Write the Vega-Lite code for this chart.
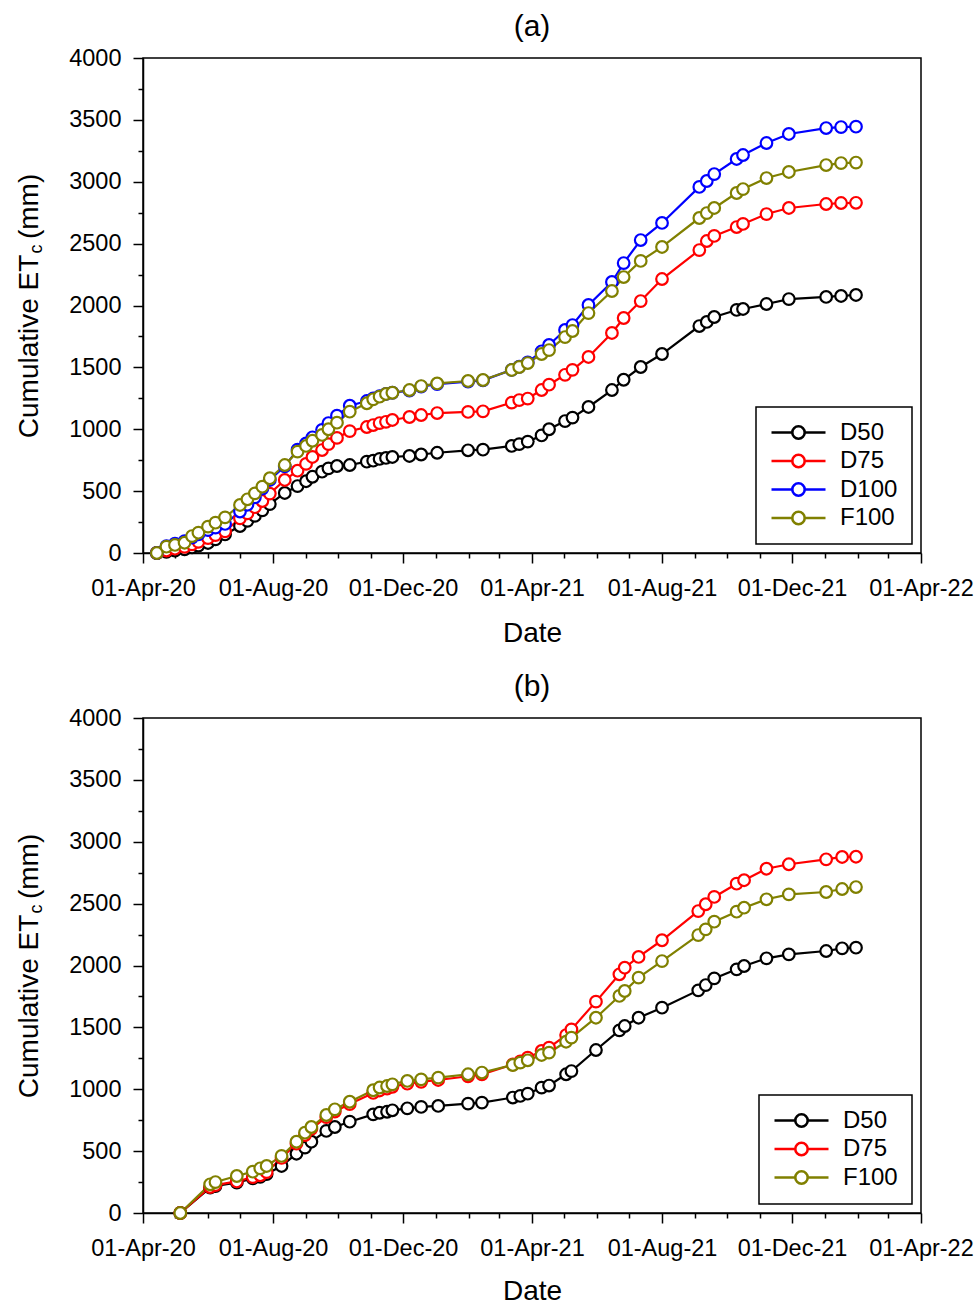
{
  "$schema": "https://vega.github.io/schema/vega-lite/v6.json",
  "background": "white",
  "padding": {"left": 14, "top": 11, "right": 0, "bottom": 0},
  "spacing": 22,
  "config": {
    "font": "Liberation Sans",
    "view": {"stroke": "black", "strokeWidth": 1.5},
    "axis": {"domainColor": "black", "domainWidth": 1.5, "tickColor": "black", "tickWidth": 1.5, "labelColor": "black", "labelFont": "Liberation Sans", "labelFontSize": 23, "titleFont": "Liberation Sans", "titleFontSize": 28, "titleFontWeight": "normal", "titleColor": "black", "grid": false},
    "title": {"font": "Liberation Sans", "fontSize": 30, "fontWeight": "normal", "color": "black", "anchor": "middle", "frame": "group", "offset": 0},
    "legend": {"orient": "bottom-right", "offset": 9, "strokeColor": "black", "strokeWidth": 1.5, "fillColor": "white", "padding": 14, "cornerRadius": 0, "labelFont": "Liberation Sans", "labelFontSize": 24, "labelColor": "black", "clipHeight": 23, "rowPadding": 3.5, "labelOffset": 13, "symbolOffset": 0}
  },
  "datasets": {
    "a": [
      {"d":"2020-04-14","s":"D50","v":0},{"d":"2020-04-23","s":"D50","v":10},{"d":"2020-05-01","s":"D50","v":20},{"d":"2020-05-10","s":"D50","v":30},{"d":"2020-05-17","s":"D50","v":45},{"d":"2020-05-23","s":"D50","v":60},{"d":"2020-06-01","s":"D50","v":81},{"d":"2020-06-08","s":"D50","v":110},{"d":"2020-06-17","s":"D50","v":150},{"d":"2020-07-01","s":"D50","v":218},{"d":"2020-07-08","s":"D50","v":260},{"d":"2020-07-15","s":"D50","v":300},{"d":"2020-07-22","s":"D50","v":345},{"d":"2020-07-29","s":"D50","v":395},{"d":"2020-08-12","s":"D50","v":485},{"d":"2020-08-24","s":"D50","v":541},{"d":"2020-09-01","s":"D50","v":580},{"d":"2020-09-07","s":"D50","v":616},{"d":"2020-09-16","s":"D50","v":657},{"d":"2020-09-22","s":"D50","v":684},{"d":"2020-09-30","s":"D50","v":703},{"d":"2020-10-12","s":"D50","v":711},{"d":"2020-10-28","s":"D50","v":738},{"d":"2020-11-03","s":"D50","v":746},{"d":"2020-11-09","s":"D50","v":760},{"d":"2020-11-15","s":"D50","v":768},{"d":"2020-11-21","s":"D50","v":776},{"d":"2020-12-07","s":"D50","v":784},{"d":"2020-12-18","s":"D50","v":796},{"d":"2021-01-02","s":"D50","v":810},{"d":"2021-01-31","s":"D50","v":830},{"d":"2021-02-14","s":"D50","v":835},{"d":"2021-03-13","s":"D50","v":865},{"d":"2021-03-20","s":"D50","v":880},{"d":"2021-03-28","s":"D50","v":900},{"d":"2021-04-10","s":"D50","v":950},{"d":"2021-04-17","s":"D50","v":1000},{"d":"2021-05-02","s":"D50","v":1066},{"d":"2021-05-09","s":"D50","v":1094},{"d":"2021-05-24","s":"D50","v":1180},{"d":"2021-06-15","s":"D50","v":1317},{"d":"2021-06-26","s":"D50","v":1400},{"d":"2021-07-12","s":"D50","v":1503},{"d":"2021-08-01","s":"D50","v":1608},{"d":"2021-09-05","s":"D50","v":1834},{"d":"2021-09-12","s":"D50","v":1867},{"d":"2021-09-19","s":"D50","v":1907},{"d":"2021-10-10","s":"D50","v":1964},{"d":"2021-10-16","s":"D50","v":1972},{"d":"2021-11-07","s":"D50","v":2012},{"d":"2021-11-28","s":"D50","v":2052},{"d":"2022-01-02","s":"D50","v":2069},{"d":"2022-01-16","s":"D50","v":2077},{"d":"2022-01-30","s":"D50","v":2085},
      {"d":"2020-04-14","s":"D75","v":0},{"d":"2020-04-23","s":"D75","v":20},{"d":"2020-05-01","s":"D75","v":35},{"d":"2020-05-10","s":"D75","v":50},{"d":"2020-05-17","s":"D75","v":70},{"d":"2020-05-23","s":"D75","v":90},{"d":"2020-06-01","s":"D75","v":120},{"d":"2020-06-08","s":"D75","v":145},{"d":"2020-06-17","s":"D75","v":175},{"d":"2020-07-01","s":"D75","v":280},{"d":"2020-07-08","s":"D75","v":320},{"d":"2020-07-15","s":"D75","v":370},{"d":"2020-07-22","s":"D75","v":420},{"d":"2020-07-29","s":"D75","v":480},{"d":"2020-08-12","s":"D75","v":590},{"d":"2020-08-24","s":"D75","v":665},{"d":"2020-09-01","s":"D75","v":720},{"d":"2020-09-07","s":"D75","v":776},{"d":"2020-09-16","s":"D75","v":832},{"d":"2020-09-22","s":"D75","v":880},{"d":"2020-09-30","s":"D75","v":930},{"d":"2020-10-12","s":"D75","v":985},{"d":"2020-10-28","s":"D75","v":1018},{"d":"2020-11-03","s":"D75","v":1034},{"d":"2020-11-09","s":"D75","v":1050},{"d":"2020-11-15","s":"D75","v":1060},{"d":"2020-11-21","s":"D75","v":1075},{"d":"2020-12-07","s":"D75","v":1099},{"d":"2020-12-18","s":"D75","v":1115},{"d":"2021-01-02","s":"D75","v":1131},{"d":"2021-01-31","s":"D75","v":1140},{"d":"2021-02-14","s":"D75","v":1145},{"d":"2021-03-13","s":"D75","v":1215},{"d":"2021-03-20","s":"D75","v":1236},{"d":"2021-03-28","s":"D75","v":1248},{"d":"2021-04-10","s":"D75","v":1317},{"d":"2021-04-17","s":"D75","v":1360},{"d":"2021-05-02","s":"D75","v":1440},{"d":"2021-05-09","s":"D75","v":1480},{"d":"2021-05-24","s":"D75","v":1584},{"d":"2021-06-15","s":"D75","v":1778},{"d":"2021-06-26","s":"D75","v":1899},{"d":"2021-07-12","s":"D75","v":2036},{"d":"2021-08-01","s":"D75","v":2214},{"d":"2021-09-05","s":"D75","v":2448},{"d":"2021-09-12","s":"D75","v":2521},{"d":"2021-09-19","s":"D75","v":2562},{"d":"2021-10-10","s":"D75","v":2634},{"d":"2021-10-16","s":"D75","v":2659},{"d":"2021-11-07","s":"D75","v":2739},{"d":"2021-11-28","s":"D75","v":2788},{"d":"2022-01-02","s":"D75","v":2820},{"d":"2022-01-16","s":"D75","v":2828},{"d":"2022-01-30","s":"D75","v":2830},
      {"d":"2020-04-14","s":"D100","v":0},{"d":"2020-04-23","s":"D100","v":55},{"d":"2020-05-01","s":"D100","v":75},{"d":"2020-05-10","s":"D100","v":95},{"d":"2020-05-17","s":"D100","v":125},{"d":"2020-05-23","s":"D100","v":150},{"d":"2020-06-01","s":"D100","v":185},{"d":"2020-06-08","s":"D100","v":205},{"d":"2020-06-17","s":"D100","v":235},{"d":"2020-07-01","s":"D100","v":335},{"d":"2020-07-08","s":"D100","v":390},{"d":"2020-07-15","s":"D100","v":450},{"d":"2020-07-22","s":"D100","v":520},{"d":"2020-07-29","s":"D100","v":590},{"d":"2020-08-12","s":"D100","v":700},{"d":"2020-08-24","s":"D100","v":835},{"d":"2020-09-01","s":"D100","v":885},{"d":"2020-09-07","s":"D100","v":935},{"d":"2020-09-16","s":"D100","v":995},{"d":"2020-09-22","s":"D100","v":1050},{"d":"2020-09-30","s":"D100","v":1110},{"d":"2020-10-12","s":"D100","v":1190},{"d":"2020-10-28","s":"D100","v":1228},{"d":"2020-11-03","s":"D100","v":1250},{"d":"2020-11-09","s":"D100","v":1268},{"d":"2020-11-15","s":"D100","v":1285},{"d":"2020-11-21","s":"D100","v":1295},{"d":"2020-12-07","s":"D100","v":1312},{"d":"2020-12-18","s":"D100","v":1345},{"d":"2021-01-02","s":"D100","v":1365},{"d":"2021-01-31","s":"D100","v":1385},{"d":"2021-02-14","s":"D100","v":1395},{"d":"2021-03-13","s":"D100","v":1480},{"d":"2021-03-20","s":"D100","v":1505},{"d":"2021-03-28","s":"D100","v":1540},{"d":"2021-04-10","s":"D100","v":1630},{"d":"2021-04-17","s":"D100","v":1681},{"d":"2021-05-02","s":"D100","v":1802},{"d":"2021-05-09","s":"D100","v":1842},{"d":"2021-05-24","s":"D100","v":2004},{"d":"2021-06-15","s":"D100","v":2190},{"d":"2021-06-26","s":"D100","v":2343},{"d":"2021-07-12","s":"D100","v":2529},{"d":"2021-08-01","s":"D100","v":2667},{"d":"2021-09-05","s":"D100","v":2958},{"d":"2021-09-12","s":"D100","v":3006},{"d":"2021-09-19","s":"D100","v":3062},{"d":"2021-10-10","s":"D100","v":3184},{"d":"2021-10-16","s":"D100","v":3216},{"d":"2021-11-07","s":"D100","v":3313},{"d":"2021-11-28","s":"D100","v":3386},{"d":"2022-01-02","s":"D100","v":3434},{"d":"2022-01-16","s":"D100","v":3442},{"d":"2022-01-30","s":"D100","v":3445},
      {"d":"2020-04-14","s":"F100","v":0},{"d":"2020-04-23","s":"F100","v":51},{"d":"2020-05-01","s":"F100","v":65},{"d":"2020-05-10","s":"F100","v":83},{"d":"2020-05-17","s":"F100","v":137},{"d":"2020-05-23","s":"F100","v":164},{"d":"2020-06-01","s":"F100","v":213},{"d":"2020-06-08","s":"F100","v":245},{"d":"2020-06-17","s":"F100","v":288},{"d":"2020-07-01","s":"F100","v":388},{"d":"2020-07-08","s":"F100","v":434},{"d":"2020-07-15","s":"F100","v":482},{"d":"2020-07-22","s":"F100","v":536},{"d":"2020-07-29","s":"F100","v":604},{"d":"2020-08-12","s":"F100","v":711},{"d":"2020-08-24","s":"F100","v":819},{"d":"2020-09-01","s":"F100","v":865},{"d":"2020-09-07","s":"F100","v":907},{"d":"2020-09-16","s":"F100","v":954},{"d":"2020-09-22","s":"F100","v":1000},{"d":"2020-09-30","s":"F100","v":1053},{"d":"2020-10-12","s":"F100","v":1142},{"d":"2020-10-28","s":"F100","v":1210},{"d":"2020-11-03","s":"F100","v":1242},{"d":"2020-11-09","s":"F100","v":1263},{"d":"2020-11-15","s":"F100","v":1285},{"d":"2020-11-21","s":"F100","v":1295},{"d":"2020-12-07","s":"F100","v":1317},{"d":"2020-12-18","s":"F100","v":1349},{"d":"2021-01-02","s":"F100","v":1370},{"d":"2021-01-31","s":"F100","v":1390},{"d":"2021-02-14","s":"F100","v":1398},{"d":"2021-03-13","s":"F100","v":1479},{"d":"2021-03-20","s":"F100","v":1503},{"d":"2021-03-28","s":"F100","v":1535},{"d":"2021-04-10","s":"F100","v":1608},{"d":"2021-04-17","s":"F100","v":1640},{"d":"2021-05-02","s":"F100","v":1745},{"d":"2021-05-09","s":"F100","v":1794},{"d":"2021-05-24","s":"F100","v":1939},{"d":"2021-06-15","s":"F100","v":2117},{"d":"2021-06-26","s":"F100","v":2230},{"d":"2021-07-12","s":"F100","v":2360},{"d":"2021-08-01","s":"F100","v":2473},{"d":"2021-09-05","s":"F100","v":2707},{"d":"2021-09-12","s":"F100","v":2747},{"d":"2021-09-19","s":"F100","v":2788},{"d":"2021-10-10","s":"F100","v":2909},{"d":"2021-10-16","s":"F100","v":2941},{"d":"2021-11-07","s":"F100","v":3030},{"d":"2021-11-28","s":"F100","v":3079},{"d":"2022-01-02","s":"F100","v":3135},{"d":"2022-01-16","s":"F100","v":3151},{"d":"2022-01-30","s":"F100","v":3155}
    ],
    "b": [
      {"d":"2020-05-06","s":"D50","v":0},{"d":"2020-06-03","s":"D50","v":205},{"d":"2020-06-08","s":"D50","v":218},{"d":"2020-06-28","s":"D50","v":245},{"d":"2020-07-13","s":"D50","v":280},{"d":"2020-07-20","s":"D50","v":293},{"d":"2020-07-26","s":"D50","v":315},{"d":"2020-08-09","s":"D50","v":380},{"d":"2020-08-23","s":"D50","v":479},{"d":"2020-08-31","s":"D50","v":528},{"d":"2020-09-06","s":"D50","v":576},{"d":"2020-09-20","s":"D50","v":663},{"d":"2020-09-28","s":"D50","v":695},{"d":"2020-10-12","s":"D50","v":738},{"d":"2020-11-03","s":"D50","v":797},{"d":"2020-11-09","s":"D50","v":810},{"d":"2020-11-16","s":"D50","v":818},{"d":"2020-11-21","s":"D50","v":830},{"d":"2020-12-05","s":"D50","v":846},{"d":"2020-12-18","s":"D50","v":857},{"d":"2021-01-03","s":"D50","v":865},{"d":"2021-01-31","s":"D50","v":884},{"d":"2021-02-13","s":"D50","v":892},{"d":"2021-03-14","s":"D50","v":933},{"d":"2021-03-21","s":"D50","v":946},{"d":"2021-03-28","s":"D50","v":964},{"d":"2021-04-10","s":"D50","v":1013},{"d":"2021-04-17","s":"D50","v":1030},{"d":"2021-05-03","s":"D50","v":1121},{"d":"2021-05-08","s":"D50","v":1147},{"d":"2021-05-31","s":"D50","v":1317},{"d":"2021-06-22","s":"D50","v":1476},{"d":"2021-06-27","s":"D50","v":1511},{"d":"2021-07-10","s":"D50","v":1578},{"d":"2021-08-01","s":"D50","v":1659},{"d":"2021-09-04","s":"D50","v":1799},{"d":"2021-09-11","s":"D50","v":1842},{"d":"2021-09-19","s":"D50","v":1896},{"d":"2021-10-10","s":"D50","v":1969},{"d":"2021-10-17","s":"D50","v":1996},{"d":"2021-11-07","s":"D50","v":2058},{"d":"2021-11-28","s":"D50","v":2090},{"d":"2022-01-02","s":"D50","v":2117},{"d":"2022-01-17","s":"D50","v":2139},{"d":"2022-01-30","s":"D50","v":2144},
      {"d":"2020-05-06","s":"D75","v":0},{"d":"2020-06-03","s":"D75","v":210},{"d":"2020-06-08","s":"D75","v":225},{"d":"2020-06-28","s":"D75","v":255},{"d":"2020-07-13","s":"D75","v":290},{"d":"2020-07-20","s":"D75","v":305},{"d":"2020-07-26","s":"D75","v":330},{"d":"2020-08-09","s":"D75","v":445},{"d":"2020-08-23","s":"D75","v":560},{"d":"2020-08-31","s":"D75","v":630},{"d":"2020-09-06","s":"D75","v":680},{"d":"2020-09-20","s":"D75","v":775},{"d":"2020-09-28","s":"D75","v":820},{"d":"2020-10-12","s":"D75","v":880},{"d":"2020-11-03","s":"D75","v":970},{"d":"2020-11-09","s":"D75","v":990},{"d":"2020-11-16","s":"D75","v":1005},{"d":"2020-11-21","s":"D75","v":1020},{"d":"2020-12-05","s":"D75","v":1045},{"d":"2020-12-18","s":"D75","v":1060},{"d":"2021-01-03","s":"D75","v":1075},{"d":"2021-01-31","s":"D75","v":1105},{"d":"2021-02-13","s":"D75","v":1120},{"d":"2021-03-14","s":"D75","v":1200},{"d":"2021-03-21","s":"D75","v":1225},{"d":"2021-03-28","s":"D75","v":1255},{"d":"2021-04-10","s":"D75","v":1309},{"d":"2021-04-17","s":"D75","v":1336},{"d":"2021-05-03","s":"D75","v":1438},{"d":"2021-05-08","s":"D75","v":1484},{"d":"2021-05-31","s":"D75","v":1708},{"d":"2021-06-22","s":"D75","v":1929},{"d":"2021-06-27","s":"D75","v":1982},{"d":"2021-07-10","s":"D75","v":2069},{"d":"2021-08-01","s":"D75","v":2204},{"d":"2021-09-04","s":"D75","v":2440},{"d":"2021-09-11","s":"D75","v":2495},{"d":"2021-09-19","s":"D75","v":2554},{"d":"2021-10-10","s":"D75","v":2661},{"d":"2021-10-17","s":"D75","v":2689},{"d":"2021-11-07","s":"D75","v":2782},{"d":"2021-11-28","s":"D75","v":2818},{"d":"2022-01-02","s":"D75","v":2858},{"d":"2022-01-17","s":"D75","v":2877},{"d":"2022-01-30","s":"D75","v":2879},
      {"d":"2020-05-06","s":"F100","v":0},{"d":"2020-06-03","s":"F100","v":232},{"d":"2020-06-08","s":"F100","v":250},{"d":"2020-06-28","s":"F100","v":299},{"d":"2020-07-13","s":"F100","v":334},{"d":"2020-07-20","s":"F100","v":361},{"d":"2020-07-26","s":"F100","v":380},{"d":"2020-08-09","s":"F100","v":461},{"d":"2020-08-23","s":"F100","v":576},{"d":"2020-08-31","s":"F100","v":649},{"d":"2020-09-06","s":"F100","v":695},{"d":"2020-09-20","s":"F100","v":792},{"d":"2020-09-28","s":"F100","v":838},{"d":"2020-10-12","s":"F100","v":899},{"d":"2020-11-03","s":"F100","v":992},{"d":"2020-11-09","s":"F100","v":1014},{"d":"2020-11-16","s":"F100","v":1026},{"d":"2020-11-21","s":"F100","v":1040},{"d":"2020-12-05","s":"F100","v":1067},{"d":"2020-12-18","s":"F100","v":1080},{"d":"2021-01-03","s":"F100","v":1094},{"d":"2021-01-31","s":"F100","v":1121},{"d":"2021-02-13","s":"F100","v":1135},{"d":"2021-03-14","s":"F100","v":1196},{"d":"2021-03-21","s":"F100","v":1215},{"d":"2021-03-28","s":"F100","v":1234},{"d":"2021-04-10","s":"F100","v":1277},{"d":"2021-04-17","s":"F100","v":1296},{"d":"2021-05-03","s":"F100","v":1384},{"d":"2021-05-08","s":"F100","v":1417},{"d":"2021-05-31","s":"F100","v":1578},{"d":"2021-06-22","s":"F100","v":1754},{"d":"2021-06-27","s":"F100","v":1794},{"d":"2021-07-10","s":"F100","v":1902},{"d":"2021-08-01","s":"F100","v":2036},{"d":"2021-09-04","s":"F100","v":2246},{"d":"2021-09-11","s":"F100","v":2292},{"d":"2021-09-19","s":"F100","v":2354},{"d":"2021-10-10","s":"F100","v":2435},{"d":"2021-10-17","s":"F100","v":2467},{"d":"2021-11-07","s":"F100","v":2535},{"d":"2021-11-28","s":"F100","v":2575},{"d":"2022-01-02","s":"F100","v":2594},{"d":"2022-01-17","s":"F100","v":2618},{"d":"2022-01-30","s":"F100","v":2634}
    ]
  },
  "resolve": {"scale": {"color": "independent"}, "legend": {"color": "independent"}},
  "vconcat": [
    {
      "title": {"text": "(a)"},
      "width": 778,
      "height": 495,
      "data": {"name": "a"},
      "resolve": {"axis": {"y": "independent"}},
      "layer": [
        {
          "mark": {"type": "line", "strokeWidth": 2.2},
          "encoding": {
            "x": {"field": "d", "type": "temporal", "title": "Date",
              "scale": {"type": "utc", "domain": [{"year": 2020, "month": 4, "date": 1, "utc": true}, {"year": 2022, "month": 4, "date": 1, "utc": true}], "nice": false},
              "axis": {"tickCount": {"interval": "month", "step": 1}, "labelExpr": "utcmonth(datum.value) % 4 == 3 ? utcFormat(datum.value, '%d-%b-%y') : ''", "tickSize": {"condition": {"test": "utcmonth(datum.value) % 4 == 3", "value": 10}, "value": 5}, "labelOverlap": false, "labelFlush": false, "labelPadding": 13, "labelFontSize": 23.5, "titlePadding": 20}},
            "y": {"field": "v", "type": "quantitative",
              "scale": {"domain": [0, 4000], "nice": false},
              "axis": {"orient": "left", "values": [0,250,500,750,1000,1250,1500,1750,2000,2250,2500,2750,3000,3250,3500,3750,4000], "format": "d", "labelExpr": "datum.value % 500 == 0 ? datum.label : ''", "tickSize": {"condition": {"test": "datum.value % 500 == 0", "value": 10}, "value": 5}, "labelOverlap": false, "labelPadding": 12, "labelFontSize": 23.5, "title": "Cumulative ET\u00a0\u00a0(mm)", "titleX": -106, "titleY": 247.5, "titleAngle": -90, "titleAlign": "center", "titleBaseline": "alphabetic"}},
            "color": {"field": "s", "type": "nominal", "title": null,
              "scale": {"domain": ["D50", "D75", "D100", "F100"], "range": ["#000000", "#ff0000", "#0000ff", "#808000"]},
              "legend": {"symbolType": "M-1,0H-0.23M0.23,0H1M-0.23,0A0.23,0.23,0,1,1,0.23,0A0.23,0.23,0,1,1,-0.23,0", "symbolSize": 2916, "symbolStrokeWidth": 2.6, "symbolFillColor": "white"}}
          }
        },
        {
          "mark": {"type": "point", "shape": "circle", "filled": false, "fill": "white", "fillOpacity": 1, "opacity": 1, "size": 135, "strokeWidth": 2.2},
          "encoding": {
            "x": {"field": "d", "type": "temporal"},
            "y": {"field": "v", "type": "quantitative", "scale": {"domain": [0, 4000], "nice": false},
              "axis": {"orient": "left", "domain": false, "ticks": false, "labels": false, "title": "c", "titleFontSize": 18, "titleX": -102, "titleY": 190.5, "titleAngle": -90, "titleAlign": "center", "titleBaseline": "alphabetic"}},
            "color": {"field": "s", "type": "nominal", "title": null}
          }
        }
      ]
    },
    {
      "title": {"text": "(b)"},
      "width": 778,
      "height": 495,
      "data": {"name": "b"},
      "resolve": {"axis": {"y": "independent"}},
      "layer": [
        {
          "mark": {"type": "line", "strokeWidth": 2.2},
          "encoding": {
            "x": {"field": "d", "type": "temporal", "title": "Date",
              "scale": {"type": "utc", "domain": [{"year": 2020, "month": 4, "date": 1, "utc": true}, {"year": 2022, "month": 4, "date": 1, "utc": true}], "nice": false},
              "axis": {"tickCount": {"interval": "month", "step": 1}, "labelExpr": "utcmonth(datum.value) % 4 == 3 ? utcFormat(datum.value, '%d-%b-%y') : ''", "tickSize": {"condition": {"test": "utcmonth(datum.value) % 4 == 3", "value": 10}, "value": 5}, "labelOverlap": false, "labelFlush": false, "labelPadding": 13, "labelFontSize": 23.5, "titlePadding": 18}},
            "y": {"field": "v", "type": "quantitative",
              "scale": {"domain": [0, 4000], "nice": false},
              "axis": {"orient": "left", "values": [0,250,500,750,1000,1250,1500,1750,2000,2250,2500,2750,3000,3250,3500,3750,4000], "format": "d", "labelExpr": "datum.value % 500 == 0 ? datum.label : ''", "tickSize": {"condition": {"test": "datum.value % 500 == 0", "value": 10}, "value": 5}, "labelOverlap": false, "labelPadding": 12, "labelFontSize": 23.5, "title": "Cumulative ET\u00a0\u00a0(mm)", "titleX": -106, "titleY": 247.5, "titleAngle": -90, "titleAlign": "center", "titleBaseline": "alphabetic"}},
            "color": {"field": "s", "type": "nominal", "title": null,
              "scale": {"domain": ["D50", "D75", "F100"], "range": ["#000000", "#ff0000", "#808000"]},
              "legend": {"symbolType": "M-1,0H-0.23M0.23,0H1M-0.23,0A0.23,0.23,0,1,1,0.23,0A0.23,0.23,0,1,1,-0.23,0", "symbolSize": 2916, "symbolStrokeWidth": 2.6, "symbolFillColor": "white"}}
          }
        },
        {
          "mark": {"type": "point", "shape": "circle", "filled": false, "fill": "white", "fillOpacity": 1, "opacity": 1, "size": 135, "strokeWidth": 2.2},
          "encoding": {
            "x": {"field": "d", "type": "temporal"},
            "y": {"field": "v", "type": "quantitative", "scale": {"domain": [0, 4000], "nice": false},
              "axis": {"orient": "left", "domain": false, "ticks": false, "labels": false, "title": "c", "titleFontSize": 18, "titleX": -102, "titleY": 190.5, "titleAngle": -90, "titleAlign": "center", "titleBaseline": "alphabetic"}},
            "color": {"field": "s", "type": "nominal", "title": null}
          }
        }
      ]
    }
  ]
}
